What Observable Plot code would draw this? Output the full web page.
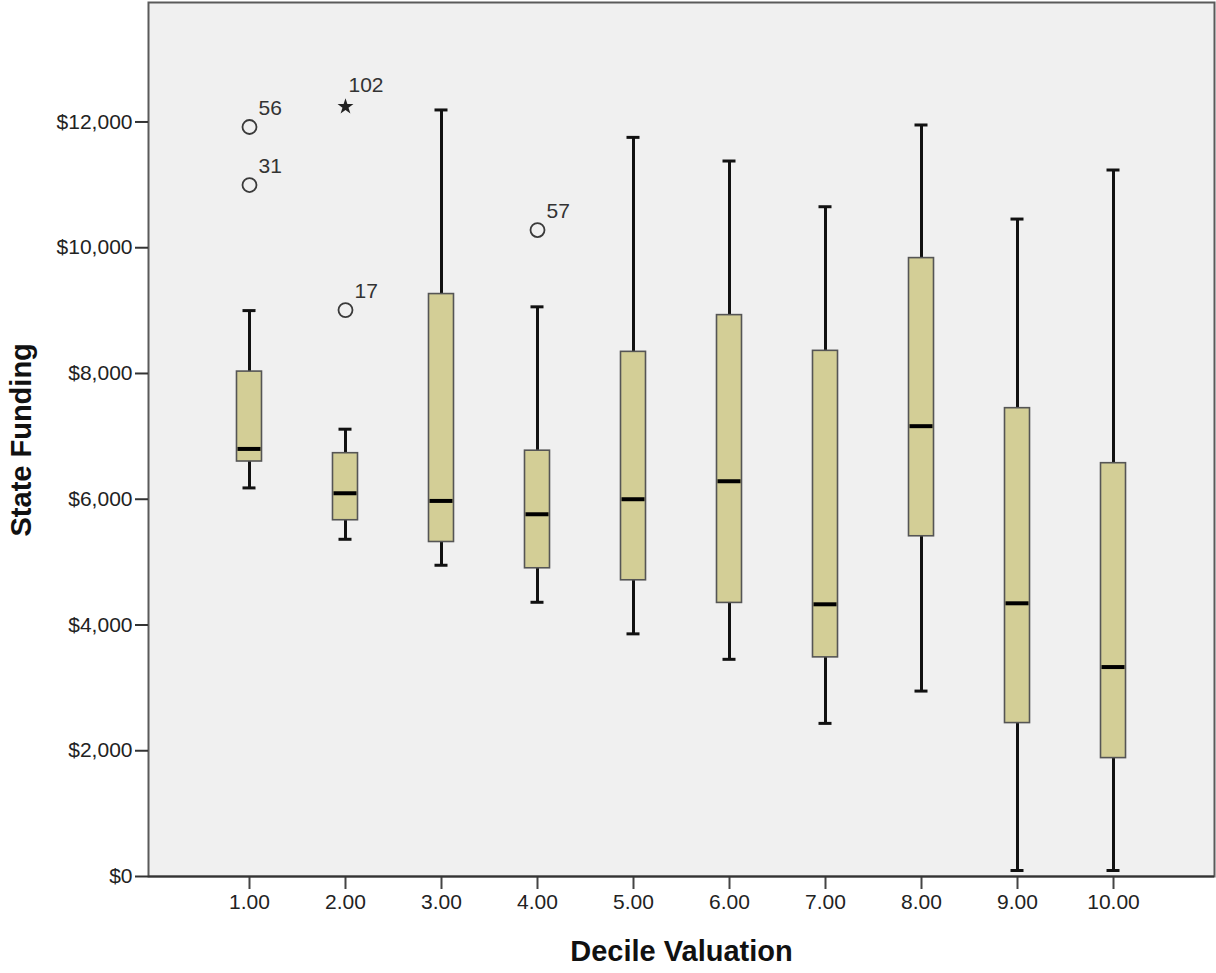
<!DOCTYPE html>
<html>
<head>
<meta charset="utf-8">
<script src="https://cdn.jsdelivr.net/npm/d3@7"></script>
<script src="https://cdn.jsdelivr.net/npm/@observablehq/plot@0.6"></script>
<style>
  body { margin: 0; background: #ffffff; }
  #chart svg { display: block; }
</style>
</head>
<body>
<div id="chart"></div>
<script>
// Categories (Decile Valuation)
const deciles = ["1.00", "2.00", "3.00", "4.00", "5.00", "6.00", "7.00", "8.00", "9.00", "10.00"];
// Box-plot statistics (State Funding, $)
const whiskerLow  = [6180, 5363, 4950, 4361, 3859, 3454, 2435, 2949,   95,   95];
const quartile1   = [6600, 5666, 5320, 4902, 4711, 4351, 3485, 5411, 2440, 1883];
const median      = [6800, 6095, 5973, 5761, 6000, 6286, 4329, 7162, 4345, 3331];
const quartile3   = [8030, 6732, 9263, 6772, 8344, 8928, 8360, 9835, 7448, 6573];
const whiskerHigh = [9000, 7114, 12191, 9060, 11755, 11379, 10652, 11952, 10456, 11236];
// Outliers
const outlierDecile = ["1.00", "1.00", "2.00", "2.00", "4.00"];
const outlierValue  = [11920, 10997, 9008, 12243, 10281];
const outlierLabel  = ["56", "31", "17", "102", "57"];
const outlierKind   = ["circle", "circle", "circle", "star", "circle"];
// Y tick values
const yTicks = [0, 2000, 4000, 6000, 8000, 10000, 12000];

const boxes = deciles.map((d, i) => ({
  decile: d, lo: whiskerLow[i], q1: quartile1[i], med: median[i], q3: quartile3[i], hi: whiskerHigh[i]
}));
const outliers = outlierDecile.map((d, i) => ({
  decile: d, value: outlierValue[i], label: outlierLabel[i], kind: outlierKind[i]
}));
const circles = outliers.filter(o => o.kind === "circle");
const stars = outliers.filter(o => o.kind === "star");

const font = "'Liberation Sans', Arial, Helvetica, sans-serif";

const chart = Plot.plot({
  width: 1216,
  height: 973,
  marginLeft: 148,
  marginRight: 2,
  marginTop: 2,
  marginBottom: 97,
  style: { fontFamily: font, fontSize: "21px", color: "#222", background: "#ffffff" },
  x: { type: "band", domain: deciles, paddingInner: 0.7396, paddingOuter: 0.9218, align: 0.5, round: false, label: null },
  y: { domain: [0, 13900], label: null },
  marks: [
    Plot.frame({ fill: "#f0f0f0", stroke: "#5a5a5a", strokeWidth: 2 }),
    // whiskers
    Plot.ruleX(boxes, { x: "decile", y1: "q3", y2: "hi", stroke: "#111", strokeWidth: 3 }),
    Plot.ruleX(boxes, { x: "decile", y1: "lo", y2: "q1", stroke: "#111", strokeWidth: 3 }),
    Plot.tickY(boxes, { x: "decile", y: "hi", stroke: "#111", strokeWidth: 3, insetLeft: 6, insetRight: 6 }),
    Plot.tickY(boxes, { x: "decile", y: "lo", stroke: "#111", strokeWidth: 3, insetLeft: 6, insetRight: 6 }),
    // boxes
    Plot.barY(boxes, { x: "decile", y1: "q1", y2: "q3", fill: "#d3ce96", stroke: "#555", strokeWidth: 1.6 }),
    // medians
    Plot.tickY(boxes, { x: "decile", y: "med", stroke: "#000", strokeWidth: 4, insetLeft: 1, insetRight: 1 }),
    // outliers
    Plot.dot(circles, { x: "decile", y: "value", r: 7, stroke: "#3a3a3a", strokeWidth: 1.8, fill: "none" }),
    Plot.dot(stars, { x: "decile", y: "value", symbol: "star", r: 5, fill: "#222", stroke: "none" }),
    Plot.text(circles, { x: "decile", y: "value", text: "label", textAnchor: "start", lineAnchor: "bottom", dx: 9, dy: -12, fill: "#333", fontSize: 21 }),
    Plot.text(stars, { x: "decile", y: "value", text: "label", textAnchor: "start", lineAnchor: "bottom", dx: 3, dy: -15, fill: "#333", fontSize: 21 }),
    // axes
    Plot.axisY({ ticks: yTicks, tickFormat: d3.format("$,"), tickSize: 13, tickPadding: 3, stroke: "#333", strokeWidth: 2, fill: "#222", fontSize: 21, label: null }),
    Plot.axisX({ tickSize: 13, tickPadding: 5, stroke: "#444", strokeWidth: 2, fill: "#222", fontSize: 21, label: null }),
    Plot.ruleY([0], { stroke: "#333", strokeWidth: 2 }),
    // axis titles
    Plot.text(["Decile Valuation"], { text: d => d, frameAnchor: "bottom", dy: 75, lineAnchor: "middle", fontSize: 29, fontWeight: "bold", fill: "#111" }),
    Plot.text(["State Funding"], { text: d => d, frameAnchor: "left", dx: -127, dy: 97, rotate: -90, lineAnchor: "middle", fontSize: 29, fontWeight: "bold", fill: "#111" })
  ]
});

document.getElementById("chart").appendChild(chart);
</script>
</body>
</html>
